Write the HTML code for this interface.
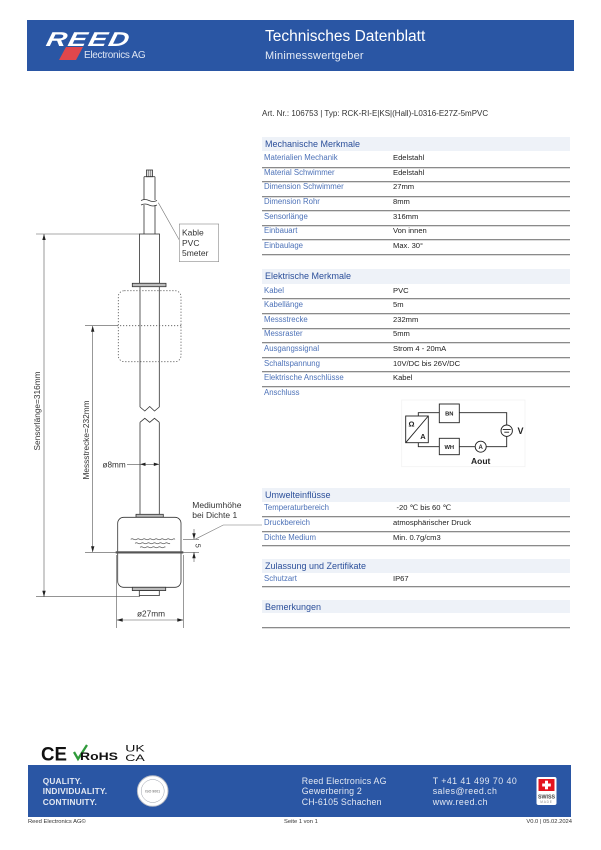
<!DOCTYPE html>
<html><head><meta charset="utf-8">
<style>
html,body{margin:0;padding:0;background:#fff;}
body{width:601px;height:850px;position:relative;overflow:hidden;font-family:"Liberation Sans",sans-serif;}
.a{position:absolute;white-space:nowrap;}
.hb{position:absolute;left:262px;width:308px;background:#eef2f8;}
.ht{position:absolute;left:265px;font-size:9px;color:#2b4f9a;line-height:10px;}
.lb{position:absolute;left:264px;font-size:7.8px;color:#4d72b8;line-height:9px;white-space:nowrap;}
.vl{position:absolute;left:393px;font-size:7.6px;color:#222;line-height:9px;white-space:nowrap;}
.sp{position:absolute;left:262px;width:308px;height:1px;background:#8a8a8a;border-bottom:1px solid #dcdcdc;}
</style></head><body>

<!-- Header -->
<div class="a" style="left:27px;top:20px;width:547px;height:51px;background:#2a56a4;"></div>
<svg class="a" style="left:0;top:0" width="601" height="850" viewBox="0 0 601 850">
  <polygon points="66,47 83,47 76,60 59,60" fill="#e0474c"/>
  <text x="46" y="46" font-family="Liberation Sans" font-weight="bold" font-style="italic" font-size="20" fill="#fff" transform="skewX(-12) translate(9,0)" letter-spacing="1" textLength="84" lengthAdjust="spacingAndGlyphs">REED</text>
</svg>
<div class="a" style="left:84px;top:50px;font-size:10px;color:#dfe6f3;letter-spacing:-0.3px;">Electronics AG</div>
<div class="a" style="left:265px;top:28px;font-size:15.5px;color:#fff;">Technisches Datenblatt</div>
<div class="a" style="left:265px;top:50px;font-size:11px;color:#e6ecf6;letter-spacing:0.2px;">Minimesswertgeber</div>

<div class="a" style="left:262px;top:109px;font-size:8px;color:#333;">Art. Nr.: 106753 | Typ: RCK-RI-E|KS|(Hall)-L0316-E27Z-5mPVC</div>

<!-- Mechanische Merkmale -->
<div class="hb" style="top:137px;height:14px;"></div>
<div class="ht" style="top:139px;">Mechanische Merkmale</div>
<div class="lb" style="top:152.8px;">Materialien Mechanik</div><div class="vl" style="top:152.8px;">Edelstahl</div>
<div class="sp" style="top:166.5px;"></div>
<div class="lb" style="top:167.5px;">Material Schwimmer</div><div class="vl" style="top:167.5px;">Edelstahl</div>
<div class="sp" style="top:181px;"></div>
<div class="lb" style="top:182.2px;">Dimension Schwimmer</div><div class="vl" style="top:182.2px;">27mm</div>
<div class="sp" style="top:195.5px;"></div>
<div class="lb" style="top:196.8px;">Dimension Rohr</div><div class="vl" style="top:196.8px;">8mm</div>
<div class="sp" style="top:209.8px;"></div>
<div class="lb" style="top:211.5px;">Sensorlänge</div><div class="vl" style="top:211.5px;">316mm</div>
<div class="sp" style="top:224.5px;"></div>
<div class="lb" style="top:226.2px;">Einbauart</div><div class="vl" style="top:226.2px;">Von innen</div>
<div class="sp" style="top:238.8px;"></div>
<div class="lb" style="top:240.8px;">Einbaulage</div><div class="vl" style="top:240.8px;">Max. 30°</div>
<div class="sp" style="top:253.8px;"></div>

<!-- Elektrische Merkmale -->
<div class="hb" style="top:269.3px;height:14.7px;"></div>
<div class="ht" style="top:271px;">Elektrische Merkmale</div>
<div class="lb" style="top:285.5px;">Kabel</div><div class="vl" style="top:285.5px;">PVC</div>
<div class="sp" style="top:297.8px;"></div>
<div class="lb" style="top:299.8px;">Kabellänge</div><div class="vl" style="top:299.8px;">5m</div>
<div class="sp" style="top:312.8px;"></div>
<div class="lb" style="top:314.8px;">Messstrecke</div><div class="vl" style="top:314.8px;">232mm</div>
<div class="sp" style="top:327.8px;"></div>
<div class="lb" style="top:329.2px;">Messraster</div><div class="vl" style="top:329.2px;">5mm</div>
<div class="sp" style="top:342.2px;"></div>
<div class="lb" style="top:344.2px;">Ausgangssignal</div><div class="vl" style="top:344.2px;">Strom 4 - 20mA</div>
<div class="sp" style="top:356.8px;"></div>
<div class="lb" style="top:358.8px;">Schaltspannung</div><div class="vl" style="top:358.8px;">10V/DC bis 26V/DC</div>
<div class="sp" style="top:371.2px;"></div>
<div class="lb" style="top:373.2px;">Elektrische Anschlüsse</div><div class="vl" style="top:373.2px;">Kabel</div>
<div class="sp" style="top:386.2px;"></div>
<div class="lb" style="top:387.8px;">Anschluss</div>

<!-- Umwelteinflüsse -->
<div class="hb" style="top:488.3px;height:13.4px;"></div>
<div class="ht" style="top:490px;">Umwelteinflüsse</div>
<div class="lb" style="top:503.2px;">Temperaturbereich</div><div class="vl" style="top:503.2px;left:396.5px;">-20 ℃ bis 60 ℃</div>
<div class="sp" style="top:515.5px;"></div>
<div class="lb" style="top:518.2px;">Druckbereich</div><div class="vl" style="top:518.2px;">atmosphärischer Druck</div>
<div class="sp" style="top:530.5px;"></div>
<div class="lb" style="top:532.8px;">Dichte Medium</div><div class="vl" style="top:532.8px;">Min. 0.7g/cm3</div>
<div class="sp" style="top:544.8px;"></div>

<!-- Zulassung -->
<div class="hb" style="top:559.3px;height:13.4px;"></div>
<div class="ht" style="top:560.5px;">Zulassung und Zertifikate</div>
<div class="lb" style="top:573.8px;">Schutzart</div><div class="vl" style="top:573.8px;">IP67</div>
<div class="sp" style="top:585.5px;"></div>

<!-- Bemerkungen -->
<div class="hb" style="top:600px;height:13.3px;"></div>
<div class="ht" style="top:601.5px;">Bemerkungen</div>
<div class="sp" style="top:627.2px;"></div>

<!-- Drawings -->
<svg class="a" style="left:0;top:0" width="601" height="850" viewBox="0 0 601 850" font-family="Liberation Sans">
  <g fill="none" stroke="#333" stroke-width="0.8">
    <rect x="146.5" y="170" width="6" height="6.7" fill="#ddd"/>
    <line x1="148.5" y1="170" x2="148.5" y2="176.7" stroke-width="0.4"/>
    <line x1="150.5" y1="170" x2="150.5" y2="176.7" stroke-width="0.4"/>
    <line x1="144" y1="176.7" x2="155" y2="176.7"/>
    <line x1="144" y1="176.7" x2="144" y2="200"/>
    <line x1="155" y1="176.7" x2="155" y2="200"/>
    <line x1="144" y1="205" x2="144" y2="234"/>
    <line x1="155" y1="205" x2="155" y2="234"/>
    <path d="M141,200.5 q4,-2 8,0 t8,0" stroke-width="0.7"/>
    <path d="M141,205 q4,-2 8,0 t8,0" stroke-width="0.7"/>
    <line x1="158.3" y1="202.7" x2="179.3" y2="240" stroke="#777" stroke-width="0.6"/>
    <rect x="179.3" y="224" width="39.4" height="37.7" stroke="#888" stroke-width="0.6"/>
    <rect x="139.5" y="234" width="20" height="49.3"/>
    <rect x="132.3" y="283.3" width="33.7" height="3.4" fill="#bbb"/>
    <line x1="140" y1="286.7" x2="140" y2="407"/>
    <line x1="159.3" y1="286.7" x2="159.3" y2="407"/>
    <polyline points="140,407 144.8,411 149.7,406.5 154.5,411 159.3,407"/>
    <polyline points="140,422.3 144.8,418.3 149.7,422.3 154.5,418.3 159.3,422.3"/>
    <line x1="140" y1="422.3" x2="140" y2="514.3"/>
    <line x1="159.3" y1="422.3" x2="159.3" y2="514.3"/>
    <rect x="118.3" y="290.7" width="62.7" height="71" rx="6" stroke="#555" stroke-dasharray="1.2 1.8" stroke-width="0.8"/>
    <line x1="117" y1="325.7" x2="182" y2="325.7" stroke="#555" stroke-dasharray="1.2 1.8"/>
    <rect x="136" y="514.3" width="27.3" height="3" fill="#bbb"/>
    <rect x="117.7" y="517.3" width="63.3" height="70" rx="6" fill="#fff"/>
    <rect x="115.7" y="551.3" width="67.6" height="2.2" fill="#555" stroke="none"/>
    <path d="M130.7,539.3 q1.5,-1 3,0 t3,0 t3,0 t3,0 t3,0 t3,0 t3,0 t3,0 t3,0 t3,0 t3,0 t3,0 t3,0 t3,0 t2.3,0" stroke-width="0.6"/>
    <path d="M135,543.3 q1.5,-1 3,0 t3,0 t3,0 t3,0 t3,0 t3,0 t3,0 t3,0 t3,0 t3,0 t3,0 t2,0" stroke-width="0.6"/>
    <path d="M140,547.3 q1.5,-1 3,0 t3,0 t3,0 t3,0 t3,0 t3,0 t3,0 t3,0 t1,0" stroke-width="0.6"/>
    <rect x="132.3" y="587.3" width="33.4" height="3.3" fill="#bbb"/>
    <rect x="139.3" y="590.6" width="20" height="5" fill="#fff"/>
  </g>
  <g stroke="#555" stroke-width="0.6" fill="none">
    <line x1="36" y1="234" x2="140" y2="234"/>
    <line x1="36" y1="596.7" x2="140" y2="596.7"/>
    <line x1="44" y1="234" x2="44" y2="596.7"/>
    <line x1="85" y1="325.7" x2="117" y2="325.7"/>
    <line x1="85" y1="552.3" x2="116" y2="552.3"/>
    <line x1="92.7" y1="325.7" x2="92.7" y2="552.3"/>
    <line x1="127" y1="464.3" x2="159.3" y2="464.3"/>
    <line x1="116.7" y1="555" x2="116.7" y2="628"/>
    <line x1="183.3" y1="555" x2="183.3" y2="628"/>
    <line x1="116.7" y1="620" x2="183.3" y2="620"/>
    <line x1="183" y1="539.3" x2="199" y2="539.3"/>
    <line x1="183" y1="552.3" x2="199" y2="552.3"/>
    <line x1="194" y1="529" x2="194" y2="539.3"/>
    <line x1="194" y1="552.3" x2="194" y2="562"/>
    <polyline points="195,539.3 223.3,525 262,525" stroke="#777"/>
  </g>
  <g fill="#222">
    <polygon points="44,234 42.3,240 45.7,240"/>
    <polygon points="44,596.7 42.3,590.7 45.7,590.7"/>
    <polygon points="92.7,325.7 91,331.7 94.4,331.7"/>
    <polygon points="92.7,552.3 91,546.3 94.4,546.3"/>
    <polygon points="140,464.3 145.5,462.6 145.5,466"/>
    <polygon points="159.3,464.3 153.8,462.6 153.8,466"/>
    <polygon points="116.7,620 122.7,618.3 122.7,621.7"/>
    <polygon points="183.3,620 177.3,618.3 177.3,621.7"/>
    <polygon points="194,539.3 192.3,533.3 195.7,533.3"/>
    <polygon points="194,552.3 192.3,558.3 195.7,558.3"/>
  </g>
  <g fill="#333" font-size="8.5">
    <text x="182" y="235.3">Kable</text>
    <text x="182" y="245.8">PVC</text>
    <text x="182" y="255.8">5meter</text>
    <text x="192.3" y="508">Mediumhöhe</text>
    <text x="192.3" y="518.2">bei Dichte 1</text>
    <text x="151" y="616.3" text-anchor="middle" font-size="8.3">ø27mm</text>
    <text x="102.5" y="467.3" font-size="8.2">ø8mm</text>
    <text transform="translate(40,411) rotate(-90)" text-anchor="middle" font-size="8.3">Sensorlänge=316mm</text>
    <text transform="translate(89,440) rotate(-90)" text-anchor="middle" font-size="8.3">Messstrecke=232mm</text>
    <text transform="translate(195.5,545.7) rotate(90)" text-anchor="middle" font-size="7.5">5</text>
  </g>

  <!-- circuit -->
  <rect x="401.7" y="400" width="123.3" height="66.7" fill="none" stroke="#f2f2f2" stroke-width="0.8"/>
  <g fill="none" stroke="#222" stroke-width="0.9">
    <rect x="405.7" y="416" width="22.6" height="26.7" fill="#fff"/>
    <line x1="405.7" y1="442.7" x2="428.3" y2="416"/>
    <polyline points="418.3,416 418.3,412.7 439.3,412.7"/>
    <rect x="439.3" y="404" width="20" height="18.7"/>
    <polyline points="459.3,412.7 506.7,412.7 506.7,425"/>
    <circle cx="506.7" cy="430.7" r="5.7"/>
    <polyline points="506.7,436.4 506.7,446.7 486.2,446.7"/>
    <circle cx="480.7" cy="446.7" r="5.5"/>
    <line x1="475.2" y1="446.7" x2="459.3" y2="446.7"/>
    <rect x="439.3" y="438.3" width="20" height="16.4"/>
    <polyline points="439.3,446.7 418.3,446.7 418.3,442.7"/>
    <line x1="502.7" y1="429.5" x2="510.7" y2="429.5"/>
    <line x1="504.3" y1="432.2" x2="509.1" y2="432.2"/>
  </g>
  <g fill="#222" font-weight="bold" text-anchor="middle">
    <text x="411.5" y="426.5" font-size="7.5">Ω</text>
    <text x="423" y="439" font-size="7.5">A</text>
    <text x="449.3" y="415.6" font-size="5.8">BN</text>
    <text x="449.3" y="448.8" font-size="5.8">WH</text>
    <text x="480.7" y="449" font-size="6">A</text>
    <text x="520.5" y="434" font-size="9">V</text>
    <text x="480.7" y="464" font-size="8.5">Aout</text>
  </g>

  <!-- cert logos -->
  <text x="41" y="760.5" font-size="19" font-weight="bold" fill="#111" textLength="26" lengthAdjust="spacingAndGlyphs">CE</text>
  <path d="M74,752 l4,7 l9,-14" fill="none" stroke="#2f9a3a" stroke-width="2.3"/>
  <text x="80" y="760" font-size="11" font-weight="bold" fill="#111" textLength="38" lengthAdjust="spacingAndGlyphs">RoHS</text>
  <text x="125.3" y="751.5" font-size="9.5" fill="#111" textLength="19.5" lengthAdjust="spacingAndGlyphs">UK</text>
  <text x="125.3" y="760.8" font-size="9.5" fill="#111" textLength="19.5" lengthAdjust="spacingAndGlyphs">CA</text>

  <!-- footer band -->
  <rect x="28" y="765" width="543" height="52" fill="#2a56a4"/>
  <circle cx="152.7" cy="791" r="15.3" fill="#fff" stroke="#b8bcc6" stroke-width="1"/>
  <circle cx="152.7" cy="791" r="11.5" fill="none" stroke="#9aa0aa" stroke-width="0.5"/>
  <text x="152.7" y="792.5" font-size="3.5" fill="#555" text-anchor="middle">ISO 9001</text>
  <rect x="536.5" y="777" width="20" height="28" rx="2" fill="#fff"/>
  <rect x="538.5" y="779" width="16" height="12" fill="#e4141e"/>
  <rect x="545" y="780.7" width="3" height="8.6" fill="#fff"/>
  <rect x="542.2" y="783.5" width="8.6" height="3" fill="#fff"/>
  <text x="546.5" y="798.5" font-size="5.3" font-weight="bold" fill="#444" text-anchor="middle">SWISS</text>
  <text x="546.5" y="803.2" font-size="3.2" fill="#888" text-anchor="middle" letter-spacing="0.8">MADE</text>
</svg>

<div class="a" style="left:42.7px;top:775.5px;font-size:8.3px;font-weight:bold;color:#e3e8f2;line-height:10.5px;letter-spacing:0.2px;">QUALITY.<br>INDIVIDUALITY.<br>CONTINUITY.</div>
<div class="a" style="left:301.7px;top:775.5px;font-size:8.8px;color:#e3e8f2;line-height:10.6px;letter-spacing:0.2px;">Reed Electronics AG<br>Gewerbering 2<br>CH-6105 Schachen</div>
<div class="a" style="left:432.7px;top:775.5px;font-size:8.8px;color:#e3e8f2;line-height:10.6px;letter-spacing:0.45px;">T +41 41 499 70 40<br>sales@reed.ch<br>www.reed.ch</div>

<div class="a" style="left:28px;top:819px;font-size:5.8px;color:#333;">Reed Electronics AG©</div>
<div class="a" style="left:284px;top:819px;font-size:5.8px;color:#333;">Seite 1 von 1</div>
<div class="a" style="right:29px;top:819px;font-size:5.8px;color:#333;">V0.0 | 05.02.2024</div>

</body></html>
